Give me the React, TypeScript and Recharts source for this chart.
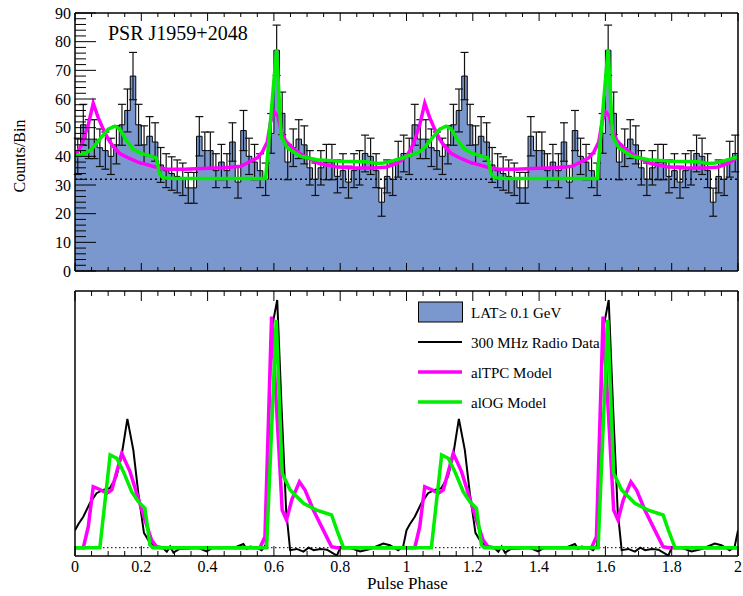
import React from 'react';
import { ComposedChart, Area, Line, XAxis, YAxis, ErrorBar, ReferenceLine } from 'recharts';

const FONT = '"Liberation Serif", "Times New Roman", serif';
const LAT_FILL = '#7a98ce';
const TPC_COLOR = '#ff00ff';
const OG_COLOR = '#00ee00';

// LAT counts per bin, 60 bins over one rotation (the plot shows two rotations)
const latCounts = [
    40, 51, 46, 46, 43, 42, 40, 44, 51, 56,
    68, 51, 44, 47, 45, 37, 35, 34, 33, 32,
    29, 29, 47, 42, 42, 35, 38, 35, 45, 31,
    49, 40, 38, 35, 32, 48, 77, 55, 38, 43,
    46, 44, 36, 32, 36, 38, 38, 33, 35, 31,
    35, 36, 41, 40, 35, 24, 33, 32, 39, 41,
];
const BACKGROUND = 32;

// model light curves, top panel (counts/bin)
const tpcPhase = [0, 0.02, 0.04, 0.055, 0.07, 0.085, 0.1, 0.115, 0.135, 0.16, 0.19, 0.22, 0.25, 0.28, 0.33, 0.4, 0.45, 0.5, 0.525, 0.55, 0.565, 0.58, 0.59, 0.6, 0.612, 0.622, 0.635, 0.655, 0.685, 0.735, 0.785, 0.84, 0.9, 0.94, 0.97, 0.99];
const tpcCounts = [40, 44, 51, 58.5, 53.5, 49.5, 46, 43.5, 41, 39.5, 38, 37, 36, 35.5, 35.5, 35.8, 36, 36.5, 38, 39.5, 41.5, 45, 52, 55.6, 54, 49, 45.5, 43, 40.5, 37.6, 36.4, 35.9, 35.9, 36.3, 37.5, 39];

const ogPhase = [0, 0.03, 0.05, 0.075, 0.1, 0.12, 0.135, 0.155, 0.175, 0.2, 0.23, 0.245, 0.255, 0.265, 0.3, 0.4, 0.5, 0.575, 0.608, 0.622, 0.64, 0.68, 0.73, 0.8, 0.88, 0.91, 0.93, 0.96, 0.99];
const ogCounts = [40, 41, 42.5, 46, 49.5, 50.5, 49.5, 45.5, 42.5, 41, 40, 39.5, 34, 32.5, 32.3, 32.3, 32.3, 32.3, 77.3, 47, 43, 40, 38.8, 38.3, 38.1, 37.5, 37.7, 38.5, 39.5];

// bottom panel, arbitrary units (radio peak = 100)
const radioPhase = [0, 0.01, 0.025, 0.045, 0.065, 0.085, 0.105, 0.125, 0.14, 0.158, 0.176, 0.191, 0.208, 0.226, 0.246, 0.262, 0.277, 0.287, 0.297, 0.315, 0.34, 0.37, 0.397, 0.42, 0.46, 0.48, 0.508, 0.518, 0.528, 0.548, 0.563, 0.575, 0.593, 0.61, 0.623, 0.637, 0.649, 0.669, 0.689, 0.705, 0.72, 0.74, 0.76, 0.79, 0.8, 0.83, 0.86, 0.89, 0.93, 0.95, 0.975, 0.99];
const radioFlux = [7, 9.5, 12.5, 18, 22, 23.3, 24, 28.7, 36.7, 52, 39.4, 22, 6, 2, 0.5, 0.3, -1.6, 0.5, -2, -0.5, -0.3, 0, -1.5, 0.3, 0, 0, 1.5, -0.5, 0.5, 0, -1, 1, 88, 100, 57, 15, -1, -0.5, -1.6, 0, -1, -0.5, -0.8, -3.2, 0, 0, -1.5, -0.5, 1.7, 1, -1, 0.5];

const tpcModelPhase = [0, 0.025, 0.04, 0.055, 0.075, 0.096, 0.111, 0.141, 0.166, 0.186, 0.211, 0.231, 0.246, 0.26, 0.558, 0.573, 0.593, 0.625, 0.638, 0.654, 0.677, 0.694, 0.719, 0.749, 0.774, 0.79, 0.99];
const tpcModelFlux = [0, 0, 8.5, 24.6, 23.5, 22, 23.3, 38.1, 30.7, 22, 11.2, 3.1, 0.4, 0, 0, 4.4, 93.3, 15.2, 11.2, 19.3, 26.6, 23.3, 15.2, 7.1, 0.4, 0, 0];

const ogModelPhase = [0, 0.075, 0.106, 0.126, 0.146, 0.171, 0.191, 0.211, 0.226, 0.235, 0.578, 0.607, 0.625, 0.649, 0.689, 0.729, 0.774, 0.79, 0.81, 0.99];
const ogModelFlux = [0, 0, 37.4, 36.1, 30.7, 22.6, 18.6, 15.9, 1.1, 0, 0, 92, 30, 23.3, 17.9, 15.2, 13.2, 7.1, 0, 0];

const phaseTicks = Array.from({ length: 41 }, (_, k) => k * 0.05);
const countTicks = Array.from({ length: 46 }, (_, k) => k * 2);

// repeat one rotation over phase 0-2
function twoCycles(phase: number[], vals: number[]) {
    const pts: { x: number; y: number }[] = [];
    for (let c = 0; c < 2; c++) phase.forEach((p, i) => pts.push({ x: p + c, y: vals[i] }));
    pts.push({ x: 2, y: vals[0] });
    return pts;
}

const NB = latCounts.length;
const histEdges: { x: number; y: number }[] = [];
const histCenters: { x: number; y: number; err: number }[] = [];
for (let c = 0; c < 2; c++) {
    latCounts.forEach((v, i) => {
        histEdges.push({ x: c + i / NB, y: v });
        histCenters.push({ x: c + (i + 0.5) / NB, y: v, err: Math.sqrt(v) });
    });
}
histEdges.push({ x: 2, y: latCounts[NB - 1] });

const TOP_H = 258;
const BOT_H = 265;

function isMajor(v: number, step: number) {
    return Math.abs(v / step - Math.round(v / step)) < 1e-6;
}

const PhaseTick = ({ x, y, payload, plotHeight, showLabel, majorLen, minorLen }: any) => {
    const v = payload.value;
    const major = isMajor(v, 0.2);
    const len = major ? majorLen : minorLen;
    return (
        <g>
            <line x1={x} x2={x} y1={y} y2={y - len} stroke="#000" strokeWidth={1} />
            <line x1={x} x2={x} y1={y - plotHeight} y2={y - plotHeight + len} stroke="#000" strokeWidth={1} />
            {showLabel && major && (
                <text x={x} y={y + 16} textAnchor="middle" fontSize={16} fontFamily={FONT} fill="#000">
                    {String(Math.round(v * 10) / 10)}
                </text>
            )}
        </g>
    );
};

const CountTick = ({ x, y, payload }: any) => {
    const v = payload.value;
    const major = isMajor(v, 10);
    const len = major ? 21 : 11;
    return (
        <g>
            <line x1={x} x2={x + len} y1={y} y2={y} stroke="#000" strokeWidth={1} />
            {major && (
                <text x={x - 4} y={y} textAnchor="end" dominantBaseline="central" fontSize={16} fontFamily={FONT} fill="#000">
                    {v}
                </text>
            )}
        </g>
    );
};

const LegendBox = () => (
    <svg width={200} height={115} style={{ position: 'absolute', left: 410, top: 295 }}>
        <rect x={8.5} y={7} width={44} height={20} fill={LAT_FILL} stroke="#000" strokeWidth={1} />
        <line x1={8} x2={52} y1={47} y2={47} stroke="#000" strokeWidth={2} />
        <line x1={8} x2={52} y1={77} y2={77} stroke={TPC_COLOR} strokeWidth={3.5} />
        <line x1={8} x2={52} y1={107} y2={107} stroke={OG_COLOR} strokeWidth={3.5} />
        {['LAT\u2265 0.1 GeV', '300 MHz Radio Data', 'alTPC Model', 'alOG Model'].map((t, i) => (
            <text key={t} x={61} y={18 + i * 30} dominantBaseline="central" fontSize={15} fontFamily={FONT} fill="#000">
                {t}
            </text>
        ))}
    </svg>
);

export default function App() {
    const tpcTop = twoCycles(tpcPhase, tpcCounts);
    const ogTop = twoCycles(ogPhase, ogCounts);
    const radio = twoCycles(radioPhase, radioFlux);
    const tpcBot = twoCycles(tpcModelPhase, tpcModelFlux);
    const ogBot = twoCycles(ogModelPhase, ogModelFlux);

    return (
        <div style={{ position: 'absolute', left: 0, top: 0, width: 743, height: 596, background: '#fff', fontFamily: FONT }}>
            {/* top panel: LAT light curve with model curves */}
            <div style={{ position: 'absolute', left: 0, top: 0 }}>
                <ComposedChart width={743} height={290} data={histEdges} margin={{ top: 13, right: 5, bottom: 18, left: 35 }}>
                    <XAxis
                        dataKey="x"
                        type="number"
                        domain={[0, 2]}
                        allowDataOverflow
                        ticks={phaseTicks}
                        interval={0}
                        height={1}
                        tickSize={0}
                        tickMargin={0}
                        axisLine={{ stroke: '#000', strokeWidth: 1.5 }}
                        tick={(p: any) => <PhaseTick {...p} plotHeight={TOP_H} majorLen={8} minorLen={4} showLabel={false} />}
                    />
                    <YAxis
                        type="number"
                        domain={[0, 90]}
                        allowDataOverflow
                        ticks={countTicks}
                        interval={0}
                        width={40}
                        tickSize={0}
                        tickMargin={0}
                        axisLine={{ stroke: '#000', strokeWidth: 1.5 }}
                        tick={(p: any) => <CountTick {...p} />}
                    />
                    <Area
                        dataKey="y"
                        type="stepAfter"
                        fill={LAT_FILL}
                        fillOpacity={1}
                        stroke="#000"
                        strokeWidth={1}
                        isAnimationActive={false}
                    />
                    <Line data={histCenters} dataKey="y" stroke="none" dot={false} isAnimationActive={false}>
                        <ErrorBar dataKey="err" direction="y" width={4} stroke="#111" strokeWidth={1.2} isAnimationActive={false} />
                    </Line>
                    <ReferenceLine y={BACKGROUND} stroke="#000" strokeWidth={1.5} strokeDasharray="2 3" />
                    <Line data={tpcTop} dataKey="y" type="linear" stroke={TPC_COLOR} strokeWidth={3.5} dot={false} isAnimationActive={false} />
                    <Line data={ogTop} dataKey="y" type="linear" stroke={OG_COLOR} strokeWidth={3.5} dot={false} isAnimationActive={false} />
                    <ReferenceLine y={90} stroke="#000" strokeWidth={1.5} />
                    <ReferenceLine x={2} stroke="#000" strokeWidth={1.5} />
                </ComposedChart>
            </div>

            {/* bottom panel: radio profile and model pulse shapes */}
            <div style={{ position: 'absolute', left: 0, top: 280 }}>
                <ComposedChart width={743} height={316} margin={{ top: 11, right: 5, bottom: 10, left: 75 }}>
                    <XAxis
                        dataKey="x"
                        type="number"
                        domain={[0, 2]}
                        allowDataOverflow
                        ticks={phaseTicks}
                        interval={0}
                        height={30}
                        tickSize={0}
                        tickMargin={0}
                        axisLine={{ stroke: '#000', strokeWidth: 1.5 }}
                        tick={(p: any) => <PhaseTick {...p} plotHeight={BOT_H} majorLen={10} minorLen={5} showLabel />}
                    />
                    <YAxis type="number" domain={[-3.35, 103.6]} allowDataOverflow hide />
                    <ReferenceLine y={0} stroke="#000" strokeWidth={1} strokeDasharray="1.5 2.5" />
                    <Line data={radio} dataKey="y" type="linear" stroke="#000" strokeWidth={2} dot={false} isAnimationActive={false} />
                    <Line data={tpcBot} dataKey="y" type="linear" stroke={TPC_COLOR} strokeWidth={3.5} dot={false} isAnimationActive={false} />
                    <Line data={ogBot} dataKey="y" type="linear" stroke={OG_COLOR} strokeWidth={3.5} dot={false} isAnimationActive={false} />
                    <ReferenceLine y={103.6} stroke="#000" strokeWidth={1.5} />
                    <ReferenceLine x={0} stroke="#000" strokeWidth={1.5} />
                    <ReferenceLine x={2} stroke="#000" strokeWidth={1.5} />
                </ComposedChart>
            </div>

            <LegendBox />

            <div style={{ position: 'absolute', left: 108, top: 21, fontSize: 20, lineHeight: '24px', whiteSpace: 'nowrap' }}>
                PSR J1959+2048
            </div>
            <div style={{ position: 'absolute', left: 367, top: 574, fontSize: 17, lineHeight: '20px', whiteSpace: 'nowrap' }}>
                Pulse Phase
            </div>
            <div
                style={{
                    position: 'absolute',
                    left: 20,
                    top: 156,
                    fontSize: 16,
                    lineHeight: '20px',
                    whiteSpace: 'nowrap',
                    transform: 'translate(-50%, -50%) rotate(-90deg)',
                }}
            >
                Counts/Bin
            </div>
        </div>
    );
}
